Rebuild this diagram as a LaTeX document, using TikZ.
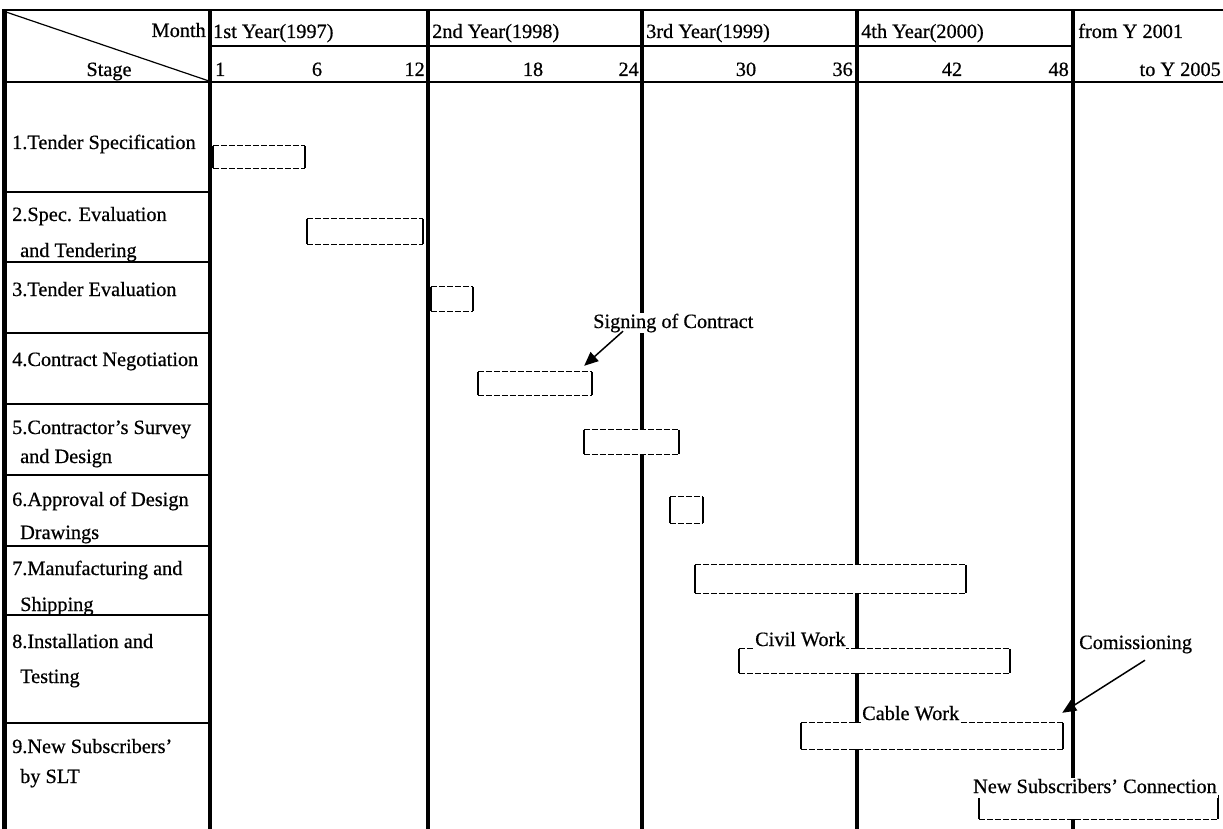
\documentclass[tikz,border=0pt]{standalone}
\usepackage{fontspec}
\setmainfont{Liberation Serif}[FakeBold=0.6]
\usetikzlibrary{arrows.meta,fit,calc}

% one Gantt bar: white box, dashed top and bottom, solid ends
\newcommand\ganttbar[5]{%
  \node[barbox, fit={(#2,#3) (#4,#5)}] (#1) {};
  \draw[bartop] (#1.north west) -- (#1.north east) (#1.south west) -- (#1.south east);
  \draw[barside] (#1.north west) -- (#1.south west) (#1.north east) -- (#1.south east);
}

\begin{document}
\begin{tikzpicture}[x=1pt,y=-1pt,
  lbl/.style={font=\fontsize{20.3}{24}\selectfont, inner sep=0pt},
  stagelbl/.style={lbl, anchor=base west},
  gridline/.style={line width=3.5pt},
  thinrule/.style={line width=1.3pt},
  headrule/.style={line width=2.6pt},
  barbox/.style={fill=white, inner sep=0pt, minimum size=0pt},
  bartop/.style={line width=1.1pt, dash pattern=on 6pt off 2pt},
  barside/.style={line width=2pt},
  callout/.style={line width=1.5pt, -{Triangle[length=14pt,width=12pt]}},
  tag/.style={lbl, fill=white, inner xsep=1pt, inner ysep=1pt, text depth=4pt, anchor=base west}
]
\useasboundingbox (0,0) rectangle (1223,829);
\clip (0,0) rectangle (1223,829);

% column rules
\draw[line width=5pt] (4,10) -- (4,829);
\foreach \cx in {210,428,642,857,1073}
  \draw[gridline] (\cx,10) -- (\cx,829);

% header frame
\draw[headrule] (2,10) -- (1223,10);
\draw[headrule] (2,82) -- (1223,82);
\draw[thinrule] (210,46) -- (1073,46);
\draw[line width=1.2pt] (6,12) -- (209,81);

% stage row dividers
\foreach \ry in {192,262,333,404,475,546,615,723}
  \draw[thinrule] (4,\ry) -- (210,\ry);

% header texts
\node[lbl, anchor=base east] (month) at (206,37) {Month};
\node[lbl, anchor=base] (stage) at (109,76) {Stage};
\node[lbl, anchor=base west] (y1) at (213,38) {1st Year(1997)};
\node[lbl, anchor=base west] (y2) at (432,38) {2nd Year(1998)};
\node[lbl, anchor=base west] (y3) at (646,38) {3rd Year(1999)};
\node[lbl, anchor=base west] (y4) at (861,38) {4th Year(2000)};
\node[lbl, anchor=base west] (y5) at (1078,38) {from Y 2001};

\node[lbl, anchor=base west] (m1) at (215,76) {1};
\node[lbl, anchor=base] (m6) at (317,76) {6};
\node[lbl, anchor=base east] (m12) at (425,76) {12};
\node[lbl, anchor=base] (m18) at (533,76) {18};
\node[lbl, anchor=base east] (m24) at (639,76) {24};
\node[lbl, anchor=base] (m30) at (746,76) {30};
\node[lbl, anchor=base east] (m36) at (853,76) {36};
\node[lbl, anchor=base] (m42) at (952,76) {42};
\node[lbl, anchor=base east] (m48) at (1069,76) {48};
\node[lbl, anchor=base east] (m60) at (1221,76) {to Y 2005};

% stage names
\node[stagelbl] (s1) at (12,149) {1.Tender Specification};
\node[stagelbl] (s2a) at (12,221) {2.Spec. Evaluation};
\node[stagelbl] (s2b) at (20,257) {and Tendering};
\node[stagelbl] (s3) at (12,296) {3.Tender Evaluation};
\node[stagelbl] (s4) at (12,366) {4.Contract Negotiation};
\node[stagelbl] (s5a) at (12,434) {5.Contractor's Survey};
\node[stagelbl] (s5b) at (20,463) {and Design};
\node[stagelbl] (s6a) at (12,506) {6.Approval of Design};
\node[stagelbl] (s6b) at (20,539) {Drawings};
\node[stagelbl] (s7a) at (12,575) {7.Manufacturing and};
\node[stagelbl] (s7b) at (20,611) {Shipping};
\node[stagelbl] (s8a) at (12,648) {8.Installation and};
\node[stagelbl] (s8b) at (20,683) {Testing};
\node[stagelbl] (s9a) at (12,753) {9.New Subscribers'};
\node[stagelbl] (s9b) at (20,783) {by SLT};

% schedule bars
\ganttbar{b1}{213}{146}{305}{168}
\ganttbar{b2}{307}{219}{423}{244}
\ganttbar{b3}{431}{287}{473}{311}
\ganttbar{b4}{478}{372}{592}{395}
\ganttbar{b5}{584}{430}{679}{454}
\ganttbar{b6}{670}{497}{703}{523}
\ganttbar{b7}{695}{565}{966}{593}
\ganttbar{b8}{739}{649}{1010}{673}
\ganttbar{b9}{801}{723}{1063}{749}
\ganttbar{b10}{979}{795}{1218}{819}

% bar captions
\node[tag] (sig) at (592,328) {Signing of Contract};
\node[tag] (civil) at (754,646) {Civil Work};
\node[tag] (cable) at (861,720) {Cable Work};
\node[tag] (comm) at (1078,649) {Comissioning};
\node[tag] (newsub) at (972,793) {New Subscribers' Connection};

% milestone pointers
\coordinate (sigfrom) at ($(sig.south west)+(31,-2)$);
\coordinate (sigto) at ($(b4.north east)+(-8,-6)$);
\draw[callout] (sigfrom) -- (sigto);
\coordinate (commfrom) at ($(comm.south west)+(67,6)$);
\coordinate (commto) at ($(b9.north east)+(-1,-10)$);
\draw[callout] (commfrom) -- (commto);
\end{tikzpicture}
\end{document}
